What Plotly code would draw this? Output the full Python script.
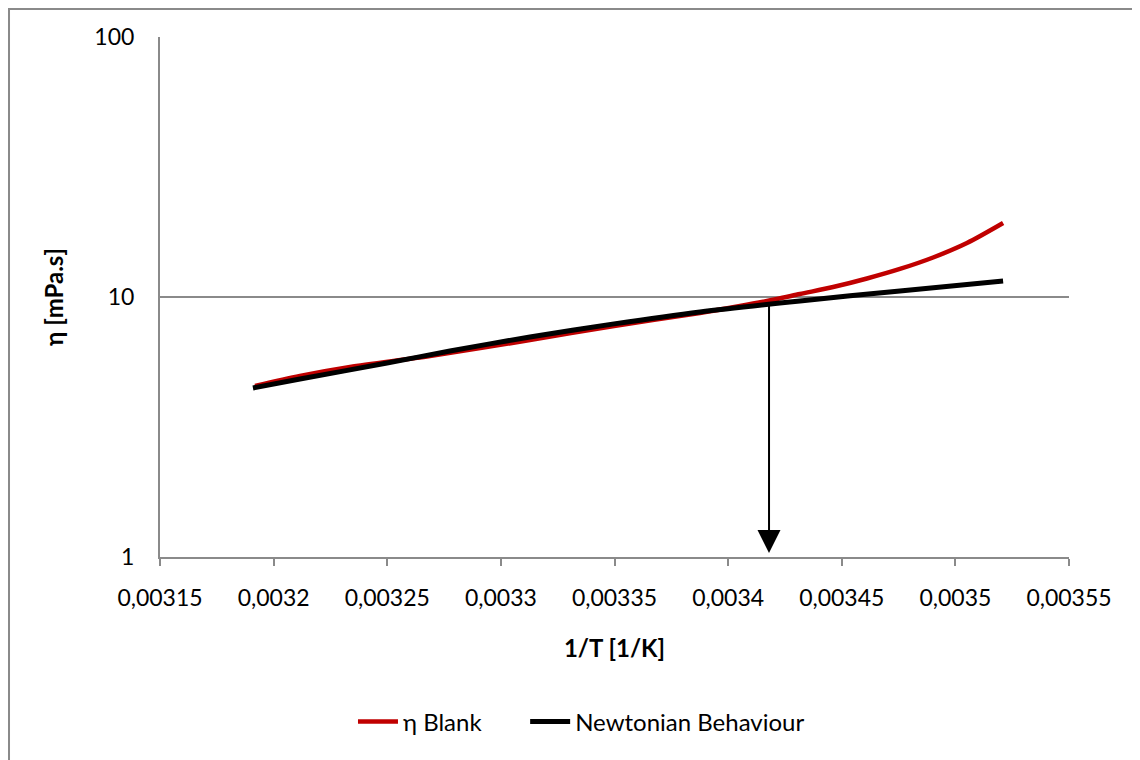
import plotly.graph_objects as go
import math

# ---- data ----
blank_x = [0.0031918, 0.0032116, 0.0032336, 0.0032688, 0.0033128, 0.0033498, 0.0033876,
           0.0034052, 0.0034215, 0.0034316, 0.0034462, 0.0034611, 0.0034756, 0.0034902, 0.0035051, 0.003521]
blank_eta = [4.55, 4.97, 5.38, 5.93, 6.83, 7.74, 8.68, 9.23, 9.82, 10.27, 10.92, 11.78, 12.82, 14.19, 16.13, 19.26]

newt_x = [0.0031909, 0.0032116, 0.0032499, 0.0032776, 0.0033128, 0.0033498, 0.0033876,
          0.0034316, 0.0034756, 0.003521]
newt_eta = [4.47, 4.84, 5.57, 6.20, 7.02, 7.88, 8.76, 9.66, 10.55, 11.52]

x_tickvals = [0.00315, 0.0032, 0.00325, 0.0033, 0.00335, 0.0034, 0.00345, 0.0035, 0.00355]
x_ticktext = ["0,00315", "0,0032", "0,00325", "0,0033", "0,00335", "0,0034", "0,00345", "0,0035", "0,00355"]
y_tickvals = [1, 10, 100]
y_ticktext = ["1", "10", "100"]

transition_x = 0.003418
transition_eta = 9.48

FONT = "Lato"
GRAY = "#8a8a8a"

fig = go.Figure()
fig.add_trace(go.Scatter(x=blank_x, y=blank_eta, mode="lines", name="η Blank", legend="legend",
                         line=dict(color="#C00000", width=4.5, shape="spline", smoothing=0.8)))
fig.add_trace(go.Scatter(x=newt_x, y=newt_eta, mode="lines", name="Newtonian Behaviour", legend="legend2",
                         line=dict(color="#000000", width=5, shape="spline", smoothing=0.8)))

fig.add_annotation(x=transition_x, y=0, ax=transition_x, ay=math.log10(transition_eta),
                   xref="x", yref="y", axref="x", ayref="y", showarrow=True, text="",
                   arrowhead=2, arrowsize=2.3, arrowwidth=2, arrowcolor="#000000", standoff=4)

# outer chart border (top and left visible)
fig.add_shape(type="rect", xref="paper", yref="paper", x0=-0.1661, x1=1.3, y0=-0.5, y1=1.0538,
              line=dict(color=GRAY, width=2), layer="below")

legend_common = dict(orientation="h", y=-0.317, xanchor="left", yanchor="middle",
                     font=dict(family=FONT, size=24), itemwidth=40, bgcolor="rgba(0,0,0,0)")

fig.update_layout(
    width=1132, height=752,
    margin=dict(l=152, r=71, t=29, b=203),
    paper_bgcolor="white", plot_bgcolor="white",
    font=dict(family=FONT, size=23, color="#000000"),
    showlegend=True,
    legend=dict(x=0.2123, **legend_common),
    legend2=dict(x=0.4017, **legend_common),
    xaxis=dict(range=[0.00315, 0.00355], tickvals=x_tickvals, ticktext=x_ticktext,
               showgrid=False, zeroline=False, showline=True, linecolor=GRAY, linewidth=2,
               ticks="outside", ticklen=7, tickwidth=2, tickcolor=GRAY,
               ticklabelstandoff=12,
               title=dict(text="<b>1/T [1/K]</b>", font=dict(family=FONT, size=24), standoff=31)),
    yaxis=dict(type="log", range=[0, 2], tickvals=y_tickvals, ticktext=y_ticktext,
               showgrid=True, gridcolor=GRAY, gridwidth=2, zeroline=False,
               showline=True, linecolor=GRAY, linewidth=2, ticks="", ticklabelstandoff=19,
               title=dict(text="<b>η [mPa.s]</b>", font=dict(family=FONT, size=24), standoff=24)),
)

fig.write_html("out.html")
